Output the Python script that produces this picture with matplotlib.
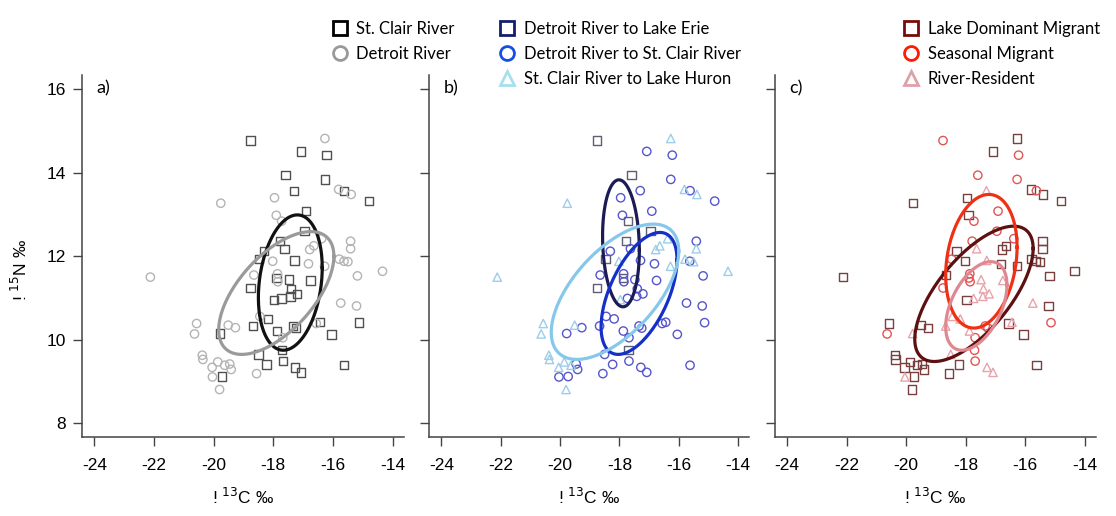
import numpy as np
import matplotlib
matplotlib.use("Agg")
import matplotlib.pyplot as plt
from matplotlib.lines import Line2D
from matplotlib import font_manager

plt.rcParams["axes.unicode_minus"] = False

# d13C / d15N of every fish, and its group in each of the three panels
d13c = [-18.76, -17.08, -16.22, -17.59, -16.27, -17.30, -15.62, -14.79, -16.91, -16.95,
        -17.78, -17.63, -18.31, -18.47, -16.27, -19.76, -17.96, -15.81, -15.39, -17.90,
        -17.72, -15.41, -15.41, -16.78, -16.64, -16.38, -17.29, -17.89, -17.48, -16.75,
        -18.76, -17.40, -17.21, -17.42, -17.73, -17.97, -18.18, -18.67, -17.34, -17.25,
        -16.44, -15.13, -17.87, -16.05, -19.78, -17.70, -18.50, -18.23, -17.68, -17.28,
        -17.08, -15.62, -19.73, -18.02, -16.82, -16.28, -15.79, -15.63, -15.50, -14.34,
        -15.18, -18.65, -17.86, -17.85, -15.74, -15.21, -20.57, -20.64, -19.51, -19.27,
        -18.45, -16.56, -17.68, -20.38, -20.36, -20.05, -19.86, -19.63, -19.46, -19.41,
        -20.04, -19.80, -18.56, -22.12]
d15n = [14.77, 14.51, 14.42, 13.94, 13.84, 13.57, 13.57, 13.32, 13.08, 12.60,
        12.36, 12.18, 12.12, 11.93, 14.82, 13.27, 13.40, 13.60, 13.48, 12.98,
        12.84, 12.36, 12.18, 12.16, 12.25, 12.42, 11.90, 11.48, 11.44, 11.42,
        11.24, 11.22, 11.10, 11.04, 10.99, 10.96, 10.50, 10.33, 10.33, 10.28,
        10.42, 10.41, 10.21, 10.13, 10.15, 9.75, 9.65, 9.41, 9.49, 9.34,
        9.22, 9.39, 9.12, 11.88, 11.82, 11.76, 11.93, 11.88, 11.87, 11.64,
        11.53, 11.55, 11.58, 11.39, 10.88, 10.81, 10.39, 10.14, 10.35, 10.29,
        10.56, 10.39, 10.05, 9.63, 9.53, 9.34, 9.47, 9.39, 9.42, 9.29,
        9.11, 8.81, 9.19, 11.50]

# a) capture river: 0 St. Clair, 1 Detroit
grp_a = [0] * 14 + [1] * 12 + [0] * 27 + [1] * 31

# b) movement: 0 Detroit->Erie, 1 Detroit->St. Clair, 2 St. Clair->Huron
erie = [1, 4, 10, 11, 14, 21, 28, 31, 46]
huron = [15, 16, 18, 19, 23, 24, 25, 26, 36, 54, 56, 57, 59, 60, 67, 68, 69,
         74, 75, 76, 77, 78, 82, 84]
grp_b = [0 if i in erie else 2 if i in huron else 1 for i in range(1, 85)]

# c) behaviour: 0 lake dominant, 1 seasonal, 2 river resident
seasonal = [1, 3, 4, 5, 7, 9, 10, 11, 14, 21, 26, 28, 31, 39, 40, 42, 46, 49,
            63, 64, 68, 73]
resident = [6, 12, 27, 29, 30, 32, 33, 34, 35, 37, 38, 41, 43, 45, 47, 50, 51,
            65, 71, 81]
grp_c = [1 if i in seasonal else 2 if i in resident else 0 for i in range(1, 85)]

# standard ellipses: centre, sd in x, sd in y, correlation
ell_a = [(-17.43, 11.37, 1.07, 1.62, 0.22), (-17.90, 11.12, 1.93, 1.47, 0.60)]
ell_b = [(-17.95, 12.31, 0.62, 1.52, -0.11), (-17.34, 11.11, 1.28, 1.46, 0.55),
         (-18.15, 11.15, 2.15, 1.62, 0.60)]
ell_c = [(-17.72, 11.10, 1.99, 1.62, 0.67), (-17.47, 11.88, 1.20, 1.60, 0.21),
         (-17.64, 10.81, 1.03, 1.06, 0.47)]

labels_a = ["St. Clair River", "Detroit River"]
labels_b = ["Detroit River to Lake Erie", "Detroit River to St. Clair River",
            "St. Clair River to Lake Huron"]
labels_c = ["Lake Dominant Migrant", "Seasonal Migrant", "River-Resident"]

names = {f.name for f in font_manager.fontManager.ttflist}
tick_font = "Liberation Sans Narrow" if "Liberation Sans Narrow" in names else "Liberation Sans"
leg_font = "Lato"

markers_a = ["s", "o"]
markers_3 = ["s", "o", "^"]

panels = [
    dict(grp=grp_a, ell=ell_a, labels=labels_a, marks=markers_a,
         pt=["#505050", "#b4b4b4"], ec=["#111111", "#9a9a9a"],
         lc=["#000000", "#999999"], tag="a)", pos=[0.0735, 0.1537, 0.2885, 0.701],
         leg=(0.297, 0.960)),
    dict(grp=grp_b, ell=ell_b, labels=labels_b, marks=markers_3,
         pt=["#5e5e74", "#5656cc", "#9ccdea"], ec=["#1b1b55", "#1430c8", "#86c8ec"],
         lc=["#141e6e", "#1450e6", "#a6e0f0"], tag="b)", pos=[0.3847, 0.1537, 0.2868, 0.701],
         leg=(0.447, 0.960)),
    dict(grp=grp_c, ell=ell_c, labels=labels_c, marks=markers_3,
         pt=["#7a4040", "#e05555", "#e8a3ab"], ec=["#5c1010", "#f03015", "#e08890"],
         lc=["#7a0a0a", "#ff1a00", "#e0a0aa"], tag="c)", pos=[0.6944, 0.1537, 0.2876, 0.701],
         leg=(0.809, 0.960)),
]

x = np.array(d13c)
y = np.array(d15n)
t = np.linspace(0, 2 * np.pi, 200)

fig = plt.figure(figsize=(11.16, 5.16), dpi=100)

for k, p in enumerate(panels):
    ax = fig.add_axes(p["pos"])
    g = np.array(p["grp"])
    for j in range(len(p["labels"])):
        m = g == j
        ax.scatter(x[m], y[m], s=36, marker=p["marks"][j], facecolors="none",
                   edgecolors=p["pt"][j], linewidths=1.0, zorder=2)
    for j, (mx, my, sx, sy, r) in enumerate(p["ell"]):
        ex = mx + sx * np.cos(t)
        ey = my + sy * (r * np.cos(t) + np.sqrt(1 - r * r) * np.sin(t))
        ax.plot(ex, ey, color=p["ec"][j], lw=2.3, zorder=3)

    ax.set_xlim(-24.41, -13.62)
    ax.set_ylim(7.68, 16.34)
    ax.set_xticks([-24, -22, -20, -18, -16, -14])
    ax.set_yticks([8, 10, 12, 14, 16])
    for s in ["top", "right"]:
        ax.spines[s].set_visible(False)
    for s in ["left", "bottom"]:
        ax.spines[s].set_color("#444444")
        ax.spines[s].set_linewidth(1.1)
    ax.tick_params(direction="out", length=6.5, width=1.0, color="#444444",
                   labelsize=12.5)
    ax.tick_params(axis="x", pad=9)
    ax.tick_params(axis="y", pad=5)
    for lab in ax.get_xticklabels() + ax.get_yticklabels():
        lab.set_fontfamily(tick_font)
    if k > 0:
        ax.set_yticklabels([])
    ax.set_xlabel(r"! $^{13}$C ‰", fontsize=12.5, family=tick_font)
    ax.xaxis.set_label_coords(0.5, -0.138)
    ax.text(0.045, 0.962, p["tag"], transform=ax.transAxes, fontsize=13,
            family=leg_font, va="center", ha="left")

    handles = [Line2D([], [], linestyle="none", marker=p["marks"][j], markersize=10,
                      markerfacecolor="none", markeredgecolor=p["lc"][j],
                      markeredgewidth=2.0)
               for j in range(len(p["labels"]))]
    fig.legend(handles, p["labels"], loc="upper left", bbox_to_anchor=p["leg"],
               frameon=False, prop={"family": leg_font, "size": 12},
               handlelength=1.0, handletextpad=0.5, labelspacing=0.55,
               borderaxespad=0, borderpad=0)

fig.text(20 / 1116, 1 - 270 / 516, r"! $^{15}$N ‰", rotation=90, fontsize=12.5,
         family=tick_font, ha="center", va="center")

fig.savefig("out.png", dpi=100)
